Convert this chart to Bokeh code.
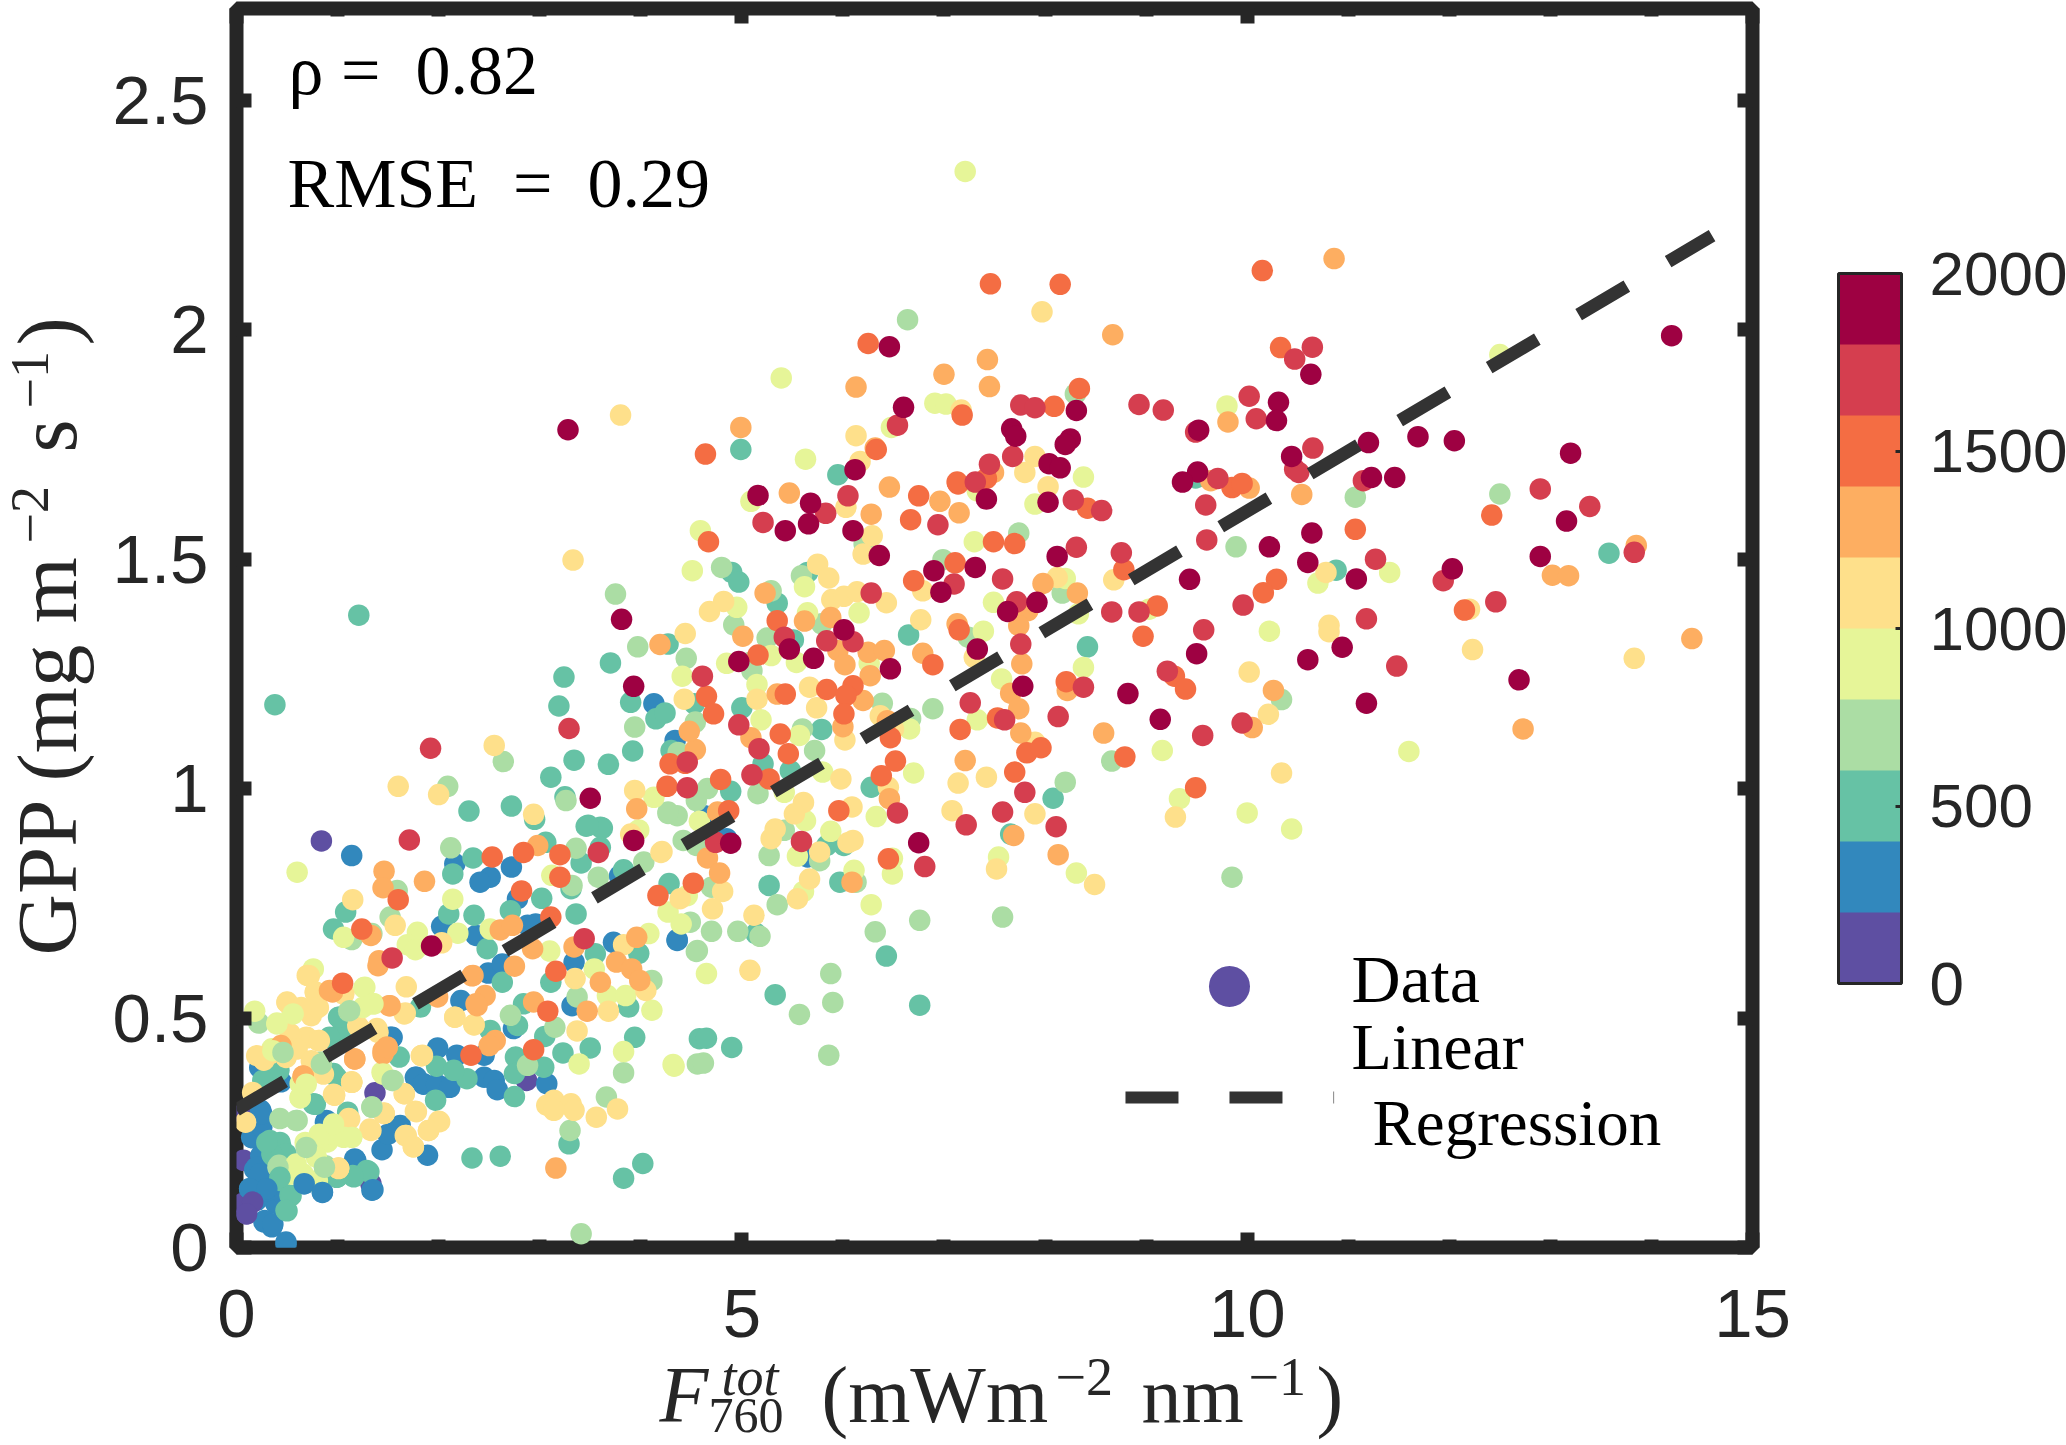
from bokeh.plotting import figure
from bokeh.embed import file_html
from bokeh.resources import INLINE
from bokeh.layouts import column
from bokeh.core.properties import value
from bokeh.models import (ColumnDataSource, LinearColorMapper, ColorBar, FixedTicker,
                          LinearAxis, Range1d)

# F760 (mW m-2 nm-1), GPP (mg m-2 s-1), one list per colour class
pts_100 = [(0.84,0.886),(2.87,0.364),(1.37,0.337),(1.33,0.139),(0.07,0.190),(0.15,0.099),(0.10,0.074),(0.06,0.096),(0.07,0.292)]
pts_300 = [(4.34,1.105),(4.13,1.185),(4.63,0.941),(4.85,0.891),(5.65,0.851),(4.36,0.671),
 (1.14,0.854),(2.16,0.836),(2.72,0.829),(2.51,0.807),(2.41,0.796),(3.79,0.810),(2.78,0.760),(2.03,0.700),(2.37,0.680),(2.88,0.702),(2.96,0.705),(3.73,0.665),(4.36,0.669),(3.34,0.622),(3.32,0.527),(2.49,0.598),(2.63,0.618),(2.22,0.538),(1.52,0.458),(2.74,0.477),(2.18,0.419),(2.45,0.419),(1.99,0.435),(1.77,0.371),(1.85,0.357),(2.08,0.350),(2.45,0.371),(2.55,0.364),(2.58,0.344),(3.07,0.357),(0.23,0.392),(0.44,0.361),(0.24,0.299),(0.88,0.273),(1.62,0.266),(1.44,0.213),(1.89,0.201),(0.24,0.266),(0.16,0.239),(1.18,0.190),(1.34,0.125),(0.67,0.139),(0.85,0.121),(0.13,0.128),(0.30,0.128),(0.39,0.096),(0.27,0.056),(0.35,0.045),(0.20,0.103),(0.49,0.007),(0.24,0.200),(0.30,0.160),(0.18,0.170),
 (1.54,0.458),(0.89,0.277),(1.78,0.371),(1.85,0.356),(1.98,0.356),(2.11,0.349),(1.58,0.262),(1.50,0.247),(0.15,0.240),(0.25,0.262),(0.25,0.291),(0.20,0.175),(0.23,0.160),(0.13,0.128),(0.30,0.124),(0.46,0.117),(0.28,0.059),(0.36,0.051),(1.17,0.193)]
pts_500 = [(9.49,1.677),(13.58,1.513),(10.88,1.476),
 (4.90,1.471),(4.97,1.450),(5.65,1.471),(5.35,1.404),(5.51,1.324),(6.65,1.335),(4.27,1.315),(4.53,1.185),(5.00,1.176),(5.79,1.129),(4.30,1.083),(4.15,1.152),(4.24,1.165),(8.42,1.309),(5.21,1.054),(5.48,1.039),(4.89,0.994),(6.28,1.003),(8.08,0.979),(7.66,0.901),(5.84,0.876),(6.01,0.876),(4.28,0.793),(5.14,0.684),(5.97,0.796),(5.27,0.789),(6.43,0.635),
 (4.99,1.739),(5.95,1.684),
 (0.38,1.183),(1.21,1.378),(3.70,1.274),(3.24,1.243),(3.19,1.18),(3.90,1.188),(3.92,1.082),(3.34,1.062),(3.68,1.053),(3.11,1.025),(3.25,0.982),(2.72,0.962),(2.30,0.951),(2.95,0.933),(3.46,0.918),(3.60,0.916),(3.62,0.914),(3.48,0.920),(2.34,0.849),(2.14,0.814),(3.06,0.883),(3.41,0.838),(3.60,0.872),(3.83,0.823),(3.31,0.782),(3.02,0.761),(2.71,0.734),(1.08,0.731),(0.96,0.694),(2.10,0.727),(2.35,0.724),(2.48,0.651),(3.36,0.727),(3.55,0.640),(3.98,0.641),(3.11,0.578),(2.63,0.578),(1.82,0.524),(2.84,0.531),(3.88,0.524),(2.78,0.484),(3.05,0.460),(3.94,0.458),(4.58,0.455),(3.50,0.435),(3.23,0.424),(2.76,0.415),(3.04,0.393),(2.75,0.379),(2.75,0.329),(2.51,0.473),(1.03,0.466),(1.61,0.415),(0.42,0.386),(0.96,0.379),(1.97,0.321),(1.98,0.395),(2.28,0.368),(2.15,0.386),(0.78,0.312),(1.10,0.288),(0.44,0.219),(0.50,0.190),(0.35,0.204),(1.31,0.165),(1.16,0.154),(1.00,0.154),(0.43,0.146),(0.53,0.114),(0.50,0.080),(1.01,0.502),(3.29,0.226),(2.33,0.195),(2.61,0.199),(3.83,0.151),(4.02,0.183),(6.76,0.528),(5.33,0.551),(4.90,0.436),(4.65,0.456),
 (0.33,0.233),(0.43,0.229),(0.49,0.204),(0.36,0.200),(0.30,0.229),(0.76,0.313),(0.99,0.371),(0.92,0.458),(1.02,0.502),(1.10,0.295),(1.29,0.168),(1.15,0.157),(0.99,0.153),(0.40,0.385),(0.26,0.364)]
pts_700 = [(9.89,1.527),(11.07,1.635),(12.50,1.642),(10.34,1.194),(8.66,1.060),
 (6.21,1.533),(4.80,1.482),(5.59,1.464),(5.29,1.431),(4.92,1.357),(5.25,1.328),(5.79,1.359),(4.45,1.284),(5.08,1.275),(5.10,1.257),(6.39,1.186),(4.54,1.145),(5.60,1.130),(5.72,1.083),(6.67,1.153),(6.89,1.174),(6.99,1.499),(7.74,1.557),(8.17,1.426),(7.24,1.330),(4.37,1.079),(5.16,0.989),(8.20,1.014),(4.27,0.946),(4.36,0.941),(4.55,0.974),(4.66,1.000),(5.42,0.909),(5.77,0.843),(5.27,0.854),(4.42,0.887),(4.55,0.876),(4.70,0.785),(4.49,0.709),(4.70,0.689),(4.96,0.689),(5.18,0.678),(6.13,0.796),(5.35,0.747),(4.55,0.645),(5.88,0.597),(6.76,0.713),(6.32,0.688),(7.58,0.720),(9.85,0.807),
 (6.64,2.022),(8.30,1.860),
 (3.75,1.424),(3.97,1.309),(2.64,1.059),(2.09,1.005),(3.94,1.134),(2.12,0.871),(3.36,0.870),(3.26,0.974),(4.27,0.949),(4.03,0.840),(3.32,0.789),(3.58,0.807),(1.59,0.778),(1.52,0.720),(1.34,0.684),(1.14,0.671),(4.56,0.647),(3.37,0.546),(4.11,0.582),(2.71,0.506),(3.15,0.480),(3.83,0.381),(2.88,0.397),(4.56,0.400),(0.22,0.489),(0.47,0.426),(1.11,0.515),(0.83,0.404),(1.55,0.364),(1.34,0.306),(0.60,0.277),(0.43,0.281),(0.70,0.219),(0.88,0.178),(0.42,0.179),(3.66,0.328),(3.30,0.255),(3.41,0.030),(4.62,0.402),(5.86,0.419),(5.90,0.534),(5.57,0.508)]
pts_900 = [(9.80,1.834),(9.03,1.391),(10.70,1.448),(11.41,1.471),(10.22,1.343),(9.16,1.083),(11.60,1.081),(9.33,0.978),(10.00,0.947),(10.44,0.912),(12.50,1.946),
 (5.09,1.626),(7.33,1.649),(7.90,1.620),(7.30,1.538),(4.59,1.562),(4.51,1.475),(5.62,1.440),(4.95,1.395),(5.65,1.383),(6.16,1.383),(5.54,1.275),(6.26,1.273),(4.41,1.245),(4.85,1.273),(5.29,1.290),(5.15,1.227),(5.19,1.150),(5.57,1.116),(6.66,1.130),(8.20,1.458),(7.49,1.406),(8.33,1.381),(7.39,1.343),(8.38,1.264),(7.57,1.239),(7.33,1.150),(7.54,0.851),(8.31,0.816),(5.42,0.992),(5.80,1.036),(6.70,1.034),(6.33,0.939),(5.63,0.930),(5.88,0.907),(5.55,0.853),(6.49,0.848),(6.49,0.814),(6.11,0.822),(4.58,0.929),(4.13,0.981),(4.46,0.767),(4.27,0.731),(4.40,0.705),(5.61,0.776),(6.28,0.747),(4.65,0.597),
 (7.21,2.345),(5.39,1.895),(6.91,1.840),(7.02,1.838),(6.48,1.787),(5.63,1.718),(8.38,1.679),
 (0.60,0.818),(3.12,0.811),(2.14,0.759),(2.19,0.685),(1.79,0.687),(1.69,0.660),(1.77,0.649),(1.06,0.676),(2.51,0.694),(3.10,0.646),(4.08,0.684),(3.54,0.607),(3.67,0.549),(3.85,0.549),(4.11,0.517),(3.83,0.427),(4.33,0.395),(3.39,0.400),(0.18,0.515),(0.76,0.607),(0.55,0.509),(0.40,0.489),(1.26,0.566),(1.36,0.531),(0.35,0.433),(1.44,0.382),(0.63,0.357),(0.63,0.326),(1.14,0.241),(0.93,0.248),(0.90,0.230),(0.80,0.146),(4.32,0.399),(3.98,0.91)]
pts_1100 = [(8.68,1.455),(10.78,1.471),(12.20,1.391),(10.81,1.356),(10.81,1.342),(12.23,1.303),(10.02,1.254),(13.83,1.284),(10.21,1.162),(10.34,1.034),(9.29,0.938),
 (6.03,1.613),(6.29,1.551),(6.20,1.511),(8.03,1.658),(5.75,1.489),(5.86,1.459),(5.89,1.412),(6.01,1.419),(6.14,1.429),(6.43,1.405),(4.82,1.408),(4.68,1.386),(6.77,1.368),(4.44,1.338),(5.15,1.195),(5.67,1.221),(4.43,1.195),(5.74,1.176),(6.02,1.106),(6.37,1.159),(6.50,1.130),(6.79,1.431),(8.12,1.460),(7.30,1.286),(7.90,1.101),(7.14,1.012),(7.42,1.025),(7.90,0.945),(7.08,0.952),(7.52,0.825),(8.49,0.791),(5.98,1.021),(6.45,1.003),(6.09,0.960),(5.61,0.970),(5.52,0.945),(5.33,0.912),(5.29,0.891),(6.05,0.882),(6.10,0.887),(5.77,0.862),(4.21,0.863),(4.81,0.776),(4.39,0.760),(4.71,0.738),(5.12,0.724),(5.08,0.604),(5.67,0.803),(5.55,0.760),
 (7.97,2.039),(7.17,1.825),(6.13,1.769),(6.17,1.713),(7.90,1.724),(7.80,1.689),
 (3.80,1.814),(3.33,1.498),(2.55,1.094),(1.60,1.005),(2.0,0.987),(2.94,0.944),(3.94,0.996),(3.90,0.901),(4.20,0.861),(1.15,0.758),(1.57,0.702),(2.03,0.664),(3.83,0.660),(3.35,0.586),(4.05,0.560),(3.68,0.515),(2.16,0.502),(2.35,0.486),(1.66,0.509),(3.37,0.472),(0.50,0.535),(0.70,0.593),(0.78,0.557),(0.78,0.524),(0.74,0.509),(1.06,0.554),(1.21,0.480),(1.39,0.477),(0.81,0.451),(0.70,0.457),(0.53,0.466),(0.27,0.408),(0.60,0.433),(1.14,0.361),(0.96,0.334),(1.66,0.335),(1.46,0.293),(1.77,0.297),(1.11,0.281),(2.00,0.275),(1.90,0.255),(1.67,0.244),(1.75,0.219),(1.33,0.255),(1.01,0.172),(3.14,0.321),(3.07,0.310),(3.31,0.313),(3.34,0.299),(3.77,0.302),(3.56,0.284),(3.14,0.299),(1.84,0.419),(0.09,0.273),
 (0.72,0.592),(0.78,0.556),(0.50,0.534),(0.74,0.505),(0.81,0.523),(0.64,0.523),(0.69,0.458),(0.82,0.451),(0.54,0.458),(0.49,0.414),(0.33,0.422),(0.20,0.418),(0.59,0.433),(0.86,0.378),(0.74,0.407),(1.20,0.483),(1.40,0.469),(1.06,0.552),(1.67,0.511),(1.68,0.568),(1.14,0.360),(0.97,0.332),(1.66,0.335),(1.78,0.296),(2.01,0.274),(1.90,0.255),(1.68,0.244),(1.75,0.220),(1.46,0.292),(1.32,0.258),(1.12,0.280),(1.83,0.418),(2.16,0.502),(2.35,0.485),(1.01,0.173),(0.16,0.338)]
pts_1300 = [(10.86,2.155),(8.67,1.989),(9.64,1.671),(10.02,1.655),(9.81,1.799),(10.54,1.641),(13.85,1.530),(13.02,1.465),(13.18,1.464),(14.40,1.327),(10.26,1.214),(10.05,1.133),(8.58,1.121),(12.73,1.130),
 (5.47,1.644),(6.28,1.598),(6.96,1.626),(7.15,1.601),(5.23,1.426),(5.01,1.332),(5.62,1.365),(5.88,1.373),(5.95,1.301),(6.25,1.297),(6.41,1.301),(6.02,1.270),(6.27,1.246),(6.79,1.295),(4.19,1.314),(5.35,1.206),(6.20,1.192),(5.09,1.111),(6.00,1.135),(6.44,1.148),(7.98,1.447),(8.32,1.426),(7.83,1.388),(7.74,1.355),(7.13,1.359),(7.77,1.272),(8.22,1.214),(7.66,1.208),(7.74,1.174),(7.76,1.121),(7.21,1.061),(4.54,1.085),(4.48,1.125),(6.46,0.978),(7.69,0.898),(8.13,0.856),(4.76,0.949),(4.66,0.849),(4.78,0.816),(6.09,0.796),
 (7.00,1.903),(7.43,1.935),(7.45,1.876),(6.13,1.875),(4.99,1.787),(7.49,1.689),(6.46,1.657),(6.32,1.742),
 (3.96,0.956),(2.98,0.876),(1.46,0.820),(1.45,0.784),(1.86,0.798),(1.33,0.680),(1.41,0.625),(0.95,0.557),(2.61,0.692),(2.73,0.702),(2.93,0.651),(3.96,0.676),(3.34,0.655),(3.76,0.622),(3.91,0.607),(3.60,0.578),(3.99,0.582),(3.47,0.515),(2.34,0.593),(2.75,0.613),(2.46,0.549),(2.38,0.527),(1.99,0.546),(2.94,0.535),(1.51,0.527),(1.45,0.429),(1.49,0.437),(1.17,0.411),(0.44,0.440),(2.56,0.451),(2.50,0.440),(0.66,0.374),(3.16,0.173),
 (0.92,0.560),(1.52,0.527),(2.33,0.592),(2.37,0.531),(1.40,0.614)]
pts_1500 = [(10.15,2.129),(10.33,1.961),(9.85,1.656),(9.95,1.665),(12.42,1.596),(11.07,1.565),(8.78,1.477),(10.29,1.456),(10.16,1.427),(9.11,1.398),(8.97,1.332),(12.15,1.389),(9.28,1.245),(9.39,1.217),(8.79,1.069),(9.49,1.002),
 (4.67,1.538),(6.75,1.638),(6.67,1.586),(7.14,1.664),(7.49,1.538),(7.70,1.534),(8.42,1.611),(5.35,1.366),(5.16,1.291),(6.89,1.270),(5.43,1.206),(5.84,1.216),(6.10,1.224),(6.03,1.203),(4.65,1.201),(4.72,1.163),(6.01,1.163),(5.38,1.119),(5.46,1.076),(6.47,1.111),(7.11,1.492),(6.70,1.453),(7.15,1.346),(8.21,1.233),(7.53,1.154),(7.16,1.129),(7.82,1.078),(7.96,1.089),(7.70,1.036),(4.29,1.054),(4.44,1.055),(4.26,1.005),(4.79,1.020),(5.27,1.021),(6.38,1.028),(6.52,1.060),(5.96,0.952),(4.87,0.952),(6.45,0.847),(4.52,0.794),(4.17,0.767),
 (7.46,2.100),(8.15,2.099),(6.25,1.970),(7.18,1.814),(8.09,1.833),(8.34,1.872),(4.64,1.729),(6.33,1.739),(7.42,1.676),(7.13,1.668),
 (2.53,0.851),(2.84,0.861),(3.20,0.856),(3.20,0.807),(2.82,0.777),(3.11,0.720),(1.60,0.758),(1.24,0.694),(3.16,0.602),(3.08,0.515),(2.94,0.431),(2.32,0.419),(1.05,0.576)]
pts_1700 = [(10.645,1.962),(10.47,1.936),(8.93,1.837),(9.17,1.825),(10.02,1.855),(10.09,1.806),(9.49,1.777),(10.65,1.742),(10.47,1.696),(10.51,1.689),(9.71,1.676),(9.59,1.618),(11.15,1.671),(12.90,1.653),(13.39,1.615),(9.60,1.542),(11.27,1.500),(11.94,1.453),(13.83,1.515),(8.755,1.514),(9.96,1.400),(8.66,1.385),(8.93,1.385),(9.57,1.346),(11.18,1.370),(12.46,1.407),(11.48,1.267),(9.21,1.256),(9.56,1.116),(9.95,1.143),
 (5.83,1.600),(5.21,1.580),(6.05,1.638),(6.94,1.575),(8.28,1.629),(8.56,1.606),(6.28,1.426),(5.84,1.322),(6.10,1.320),(5.42,1.330),(4.61,1.245),(4.97,1.139),(5.17,1.087),(7.58,1.457),(7.10,1.446),(8.31,1.526),(7.72,1.407),(7.76,1.315),(8.38,1.221),(7.26,1.187),(7.60,1.150),(8.13,1.157),(4.46,1.058),(4.46,1.002),(5.10,1.030),(6.54,0.947),(7.80,0.992),(7.58,0.949),(7.22,0.921),(8.11,0.917),(4.74,0.883),(5.59,0.885),(6.81,0.830),
 (6.54,1.792),(7.76,1.836),(7.90,1.830),(7.68,1.724),(7.45,1.707),(7.31,1.668),
 (3.29,1.131),(1.92,1.088),(1.71,0.888),(3.58,0.861),(3.44,0.673),(1.54,0.631)]
pts_1900 = [(10.63,1.903),(10.31,1.842),(10.29,1.802),(9.52,1.781),(10.44,1.724),(11.20,1.754),(11.69,1.767),(12.05,1.758),(13.20,1.731),(9.51,1.690),(9.36,1.668),(11.23,1.678),(11.46,1.678),(13.16,1.583),(10.64,1.557),(10.22,1.527),(10.60,1.493),(11.08,1.457),(12.03,1.479),(12.90,1.506),(9.43,1.456),(9.50,1.294),(10.94,1.308),(10.60,1.281),(12.69,1.237),(8.82,1.207),(9.14,1.151),(11.18,1.186),(14.20,1.987),
 (5.16,1.639),(5.68,1.622),(5.66,1.577),(5.43,1.562),(6.10,1.562),(6.36,1.508),(7.42,1.631),(8.03,1.624),(6.01,1.346),(5.47,1.304),(5.71,1.284),(6.47,1.261),(4.97,1.277),(7.31,1.482),(6.90,1.475),(6.97,1.428),(8.12,1.506),(7.92,1.406),(7.63,1.386),(7.33,1.304),(7.78,1.223),(4.89,0.881),(6.75,0.882),
 (3.28,1.782),(6.46,1.963),(6.60,1.831),(8.31,1.824),(7.67,1.784),(7.71,1.768),(8.25,1.762),(8.20,1.750),(8.04,1.708),(8.15,1.699),(6.12,1.695),
 (3.81,1.369),(3.93,1.223),(3.50,0.979),(3.93,0.887),(1.93,0.657)]

# points of the dense lower-left cluster that lie on top of warmer ones
top_1300 = [(1.17,0.411),(1.45,0.422),(1.49,0.436),(0.66,0.373)]
top_1100 = [(1.46,0.292),(1.83,0.418),(0.97,0.332),(1.14,0.360),(1.01,0.173)]
top_900 = [(0.56,0.509),(0.40,0.487),(1.27,0.567),(1.35,0.531),(1.25,0.523),(0.36,0.429),(0.63,0.327),(0.69,0.356),(0.92,0.247),(1.06,0.240),(0.82,0.247),(0.79,0.142),(0.66,0.160),(0.79,0.197),(1.14,0.240),(0.68,0.229),(0.96,0.269),(1.45,0.378),(0.54,0.160),(0.59,0.182)]
top_700 = [(0.46,0.425),(1.12,0.516),(0.84,0.400),(0.69,0.218),(0.87,0.175),(0.41,0.175),(0.59,0.277),(1.34,0.306),(1.54,0.364)]
top_500 = [(0.43,0.153),(0.54,0.113),(0.49,0.081)]
top_300 = [(0.67,0.139),(0.85,0.120),(1.35,0.126),(0.49,0.012),(0.30,0.128)]
top_100 = [(0.16,0.099),(0.10,0.073)]

par_levels = [100, 300, 500, 700, 900, 1100, 1300, 1500, 1700, 1900, 1300, 1100, 900, 700, 500, 300, 100]
par_groups = [pts_100, pts_300, pts_500, pts_700, pts_900, pts_1100, pts_1300, pts_1500, pts_1700, pts_1900,
              top_1300, top_1100, top_900, top_700, top_500, top_300, top_100]
palette = ["#5E4FA2", "#3288BD", "#66C2A5", "#ABDDA4", "#E6F598", "#FEE08B", "#FDAE61", "#F46D43", "#D53E4F", "#9E0142"]

fit_x = [0, 14.6]
fit_y = [0.30, 2.205]

legend_marker_x, legend_marker_y = [9.825], [0.569]
legend_line_x, legend_line_y = [8.796, 10.86], [0.327, 0.327]

x_ticks = [0, 5, 10, 15]
x_minor = [1, 2, 3, 4, 6, 7, 8, 9, 11, 12, 13, 14]
y_ticks = [0, 0.5, 1, 1.5, 2, 2.5]
y_tick_labels = {0: "0", 0.5: "0.5", 1: "1", 1.5: "1.5", 2: "2", 2.5: "2.5"}
cbar_ticks = [0, 500, 1000, 1500, 2000]

INK = "#262626"
SANS = "Liberation Sans"
SERIF = "Liberation Serif"

mapper = LinearColorMapper(palette=palette, low=0, high=2000)

xs, ys, cs = [], [], []
for level, group in zip(par_levels, par_groups):
    for a, b in group:
        xs.append(a); ys.append(b); cs.append(level)
source = ColumnDataSource(dict(f760=xs, gpp=ys, par=cs))

p = figure(width=2066, height=1445, output_backend="svg", toolbar_location=None,
           x_range=Range1d(0, 15), y_range=Range1d(0, 2.7),
           x_axis_type=None, y_axis_type=None,
           frame_width=1516, frame_height=1239,
           min_border_left=236, min_border_right=314, min_border_top=8, min_border_bottom=198,
           background_fill_color="white", border_fill_color="white", frame_align=False)
p.grid.visible = False
p.outline_line_color = INK
p.outline_line_width = 14


def styled_axis(place, ticks, minor, labelled):
    ax = LinearAxis(ticker=FixedTicker(ticks=ticks, minor_ticks=minor))
    ax.axis_line_color = None
    ax.major_tick_line_color = INK
    ax.major_tick_line_width = 14
    ax.major_tick_in = 15
    ax.major_tick_out = 0
    ax.minor_tick_line_color = INK
    ax.minor_tick_line_width = 14
    ax.minor_tick_in = 8
    ax.minor_tick_out = 0
    if labelled:
        ax.major_label_text_font = SANS
        ax.major_label_text_font_size = "69px"
        ax.major_label_text_color = INK
    else:
        ax.major_label_text_font_size = "0px"
        ax.major_label_text_color = None
        ax.major_label_standoff = 0
    p.add_layout(ax, place)
    return ax


bottom = styled_axis("below", x_ticks, x_minor, True)
bottom.major_label_standoff = 42
left = styled_axis("left", y_ticks, [], True)
left.major_label_standoff = 28
left.major_label_overrides = y_tick_labels
styled_axis("above", x_ticks, x_minor, False)
styled_axis("right", y_ticks, [], False)

p.scatter("f760", "gpp", source=source, size=21.5, marker="circle",
          fill_color={"field": "par", "transform": mapper}, line_color=None)
p.line(fit_x, fit_y, line_color="#333333", line_width=13, line_dash="56 48", line_cap="butt")

# legend drawn by hand, as in the reference
p.scatter(legend_marker_x, legend_marker_y, size=41, marker="circle", fill_color=palette[0], line_color=None)
p.line(legend_line_x, legend_line_y, line_color="#333333", line_width=12, line_dash="53 51", line_cap="butt")

cb = ColorBar(color_mapper=mapper, ticker=FixedTicker(ticks=cbar_ticks), width=63, height=710,
              location=(86, 264), padding=0, margin=0,
              major_label_text_font=SANS, major_label_text_font_size="62px", major_label_text_color=INK,
              label_standoff=28, major_tick_line_color=INK, major_tick_line_width=3,
              major_tick_in=6, major_tick_out=0, minor_tick_line_color=None,
              bar_line_color=INK, bar_line_width=3, border_line_color=None, background_fill_color=None)
p.add_layout(cb, "right")

# transparent sheet over the plot for free text (its data units are the picture's pixels)
sheet = figure(width=2066, height=1445, output_backend="svg", toolbar_location=None,
               x_range=Range1d(0, 2066), y_range=Range1d(1445, 0),
               x_axis_type=None, y_axis_type=None,
               frame_width=2066, frame_height=1445, frame_align=False,
               min_border=0, min_border_left=0, min_border_right=0, min_border_top=0, min_border_bottom=0,
               outline_line_color=None, background_fill_color=None, border_fill_color=None,
               styles={"margin-top": "-1445px"})

BASELINE_K = 0.36  # the text glyph sets its alphabetic baseline this fraction of the size too low


def txt(text, x, y, size, font=SERIF, style="normal", angle=0, color="#000000"):
    if angle:
        x = x - BASELINE_K * size
    else:
        y = y - BASELINE_K * size
    sheet.text([x], [y], text=[text], text_font=value(font), text_font_size=value(f"{size}px"),
               text_font_style=style, text_color=color, text_align="left",
               text_baseline="alphabetic", angle=angle, angle_units="deg")


txt("ρ =\u20020.82", 288, 95, 70)
txt("RMSE\u2002=\u20020.29", 287, 208, 70)
txt("Data", 1351, 1003, 68)
txt("Linear", 1351, 1070, 66)
txt("Regression", 1372, 1146, 65)

# x axis title
LBL = "#262626"
txt("F", 659, 1423, 80, style="italic", color=LBL)
txt("tot", 721, 1396, 54, style="italic", color=LBL)
txt("760", 708, 1433, 50, color=LBL)
txt("(mWm", 821, 1423, 80, color=LBL)
txt("\u22122", 1055, 1396, 54, color=LBL)
txt("nm", 1141, 1423, 80, color=LBL)
txt("\u22121", 1248, 1396, 54, color=LBL)
txt(")", 1316, 1423, 80, color=LBL)

# y axis title
txt("GPP (mg m", 77, 955, 85, angle=90, color=LBL)
txt("\u22122", 49, 543, 54, angle=90, color=LBL)
txt("s", 77, 452, 85, angle=90, color=LBL)
txt("\u22121", 49, 408, 54, angle=90, color=LBL)
txt(")", 77, 345, 85, angle=90, color=LBL)

root = column(p, sheet)
open("out.html", "w").write(file_html(root, INLINE))
